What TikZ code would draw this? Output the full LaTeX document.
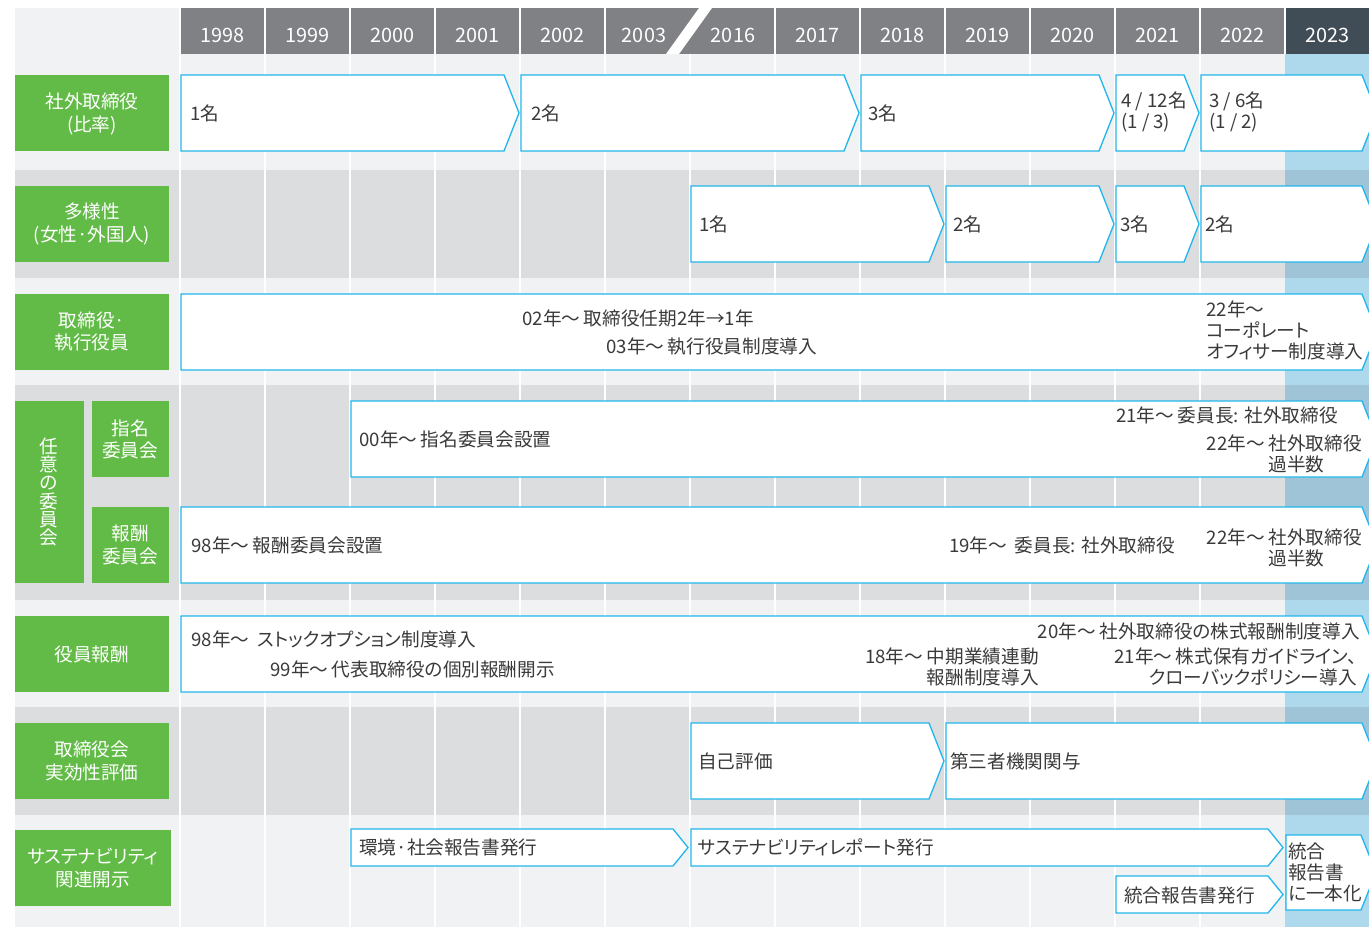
\documentclass[tikz,border=0pt]{standalone}
\usepackage{fontspec}
\setmainfont{Noto Sans CJK JP}[RawFeature=+palt]
\definecolor{bglight}{HTML}{F1F2F4}
\definecolor{bgdark}{HTML}{DCDDDF}
\definecolor{nowlight}{HTML}{AED8EC}
\definecolor{nowdark}{HTML}{9FC4D8}
\definecolor{hdrgray}{HTML}{808185}
\definecolor{hdrnow}{HTML}{404C56}
\definecolor{labgreen}{HTML}{62BB47}
\definecolor{boxline}{HTML}{22B6EA}
\definecolor{boxtext}{HTML}{3A3A3A}
\newcommand{\yrfont}{\fontsize{11.3}{13}\selectfont}
\newcommand{\bxfont}{\fontsize{10.6}{12}\selectfont}
\newcommand{\lbfont}{\fontsize{10.6}{12.6}\selectfont}
\newcommand{\wv}{〜\hspace{0.2em}}
\newcommand{\chev}[4]{\draw[chev] (#1,#3) -- (#2-15,#3) -- (#2,{(#3+#4)/2}) -- (#2-15,#4) -- (#1,#4) -- cycle;}
\begin{document}
\begin{tikzpicture}[x=0.02cm,y=-0.02cm,
  chev/.style={draw=boxline,fill=white,line width=0.75pt},
  grid/.style={white,line width=0.8pt},
  yr/.style={text=white,font=\yrfont,inner sep=0pt},
  lab/.style={text=white,font=\lbfont,align=center,inner sep=0pt},
  txt/.style={text=boxtext,font=\bxfont,inner sep=0pt}]
\useasboundingbox (0,0) rectangle (1369,927);
\clip (0,0) rectangle (1369,927);
\fill[bglight] (15,8) rectangle (1369,927);
\fill[bgdark] (15,170) rectangle (1369,278);
\fill[bgdark] (15,385) rectangle (1369,600);
\fill[bgdark] (15,707) rectangle (1369,815);
\fill[nowlight] (1285,54) rectangle (1369,927);
\fill[nowdark] (1285,170) rectangle (1369,278);
\fill[nowdark] (1285,385) rectangle (1369,600);
\fill[nowdark] (1285,707) rectangle (1369,815);
\fill[hdrgray] (180,8) rectangle (1285,54);
\fill[hdrnow] (1285,8) rectangle (1369,54);
\draw[grid] (180,8) -- (180,927) (265,8) -- (265,927) (350,8) -- (350,927)
  (435,8) -- (435,927) (520,8) -- (520,927) (605,8) -- (605,927)
  (690,54) -- (690,927) (775,8) -- (775,927) (860,8) -- (860,927)
  (945,8) -- (945,927) (1030,8) -- (1030,927) (1115,8) -- (1115,927)
  (1200,8) -- (1200,927) (1285,8) -- (1285,54);
\fill[white] (666,54) -- (679,54) -- (712,8) -- (699,8) -- cycle;
\node[yr] (y1998) at (222.5,35) {1998};
\node[yr] (y1999) at (307.5,35) {1999};
\node[yr] (y2000) at (392.5,35) {2000};
\node[yr] (y2001) at (477.5,35) {2001};
\node[yr] (y2002) at (562.5,35) {2002};
\node[yr] (y2003) at (644,35) {2003};
\node[yr] (y2016) at (733,35) {2016};
\node[yr] (y2017) at (817.5,35) {2017};
\node[yr] (y2018) at (902.5,35) {2018};
\node[yr] (y2019) at (987.5,35) {2019};
\node[yr] (y2020) at (1072.5,35) {2020};
\node[yr] (y2021) at (1157.5,35) {2021};
\node[yr] (y2022) at (1242.5,35) {2022};
\node[yr] (y2023) at (1327.5,35) {2023};
\fill[labgreen] (15,75) rectangle (169,151);
\fill[labgreen] (15,186) rectangle (169,262);
\fill[labgreen] (15,294) rectangle (169,370);
\fill[labgreen] (15,401) rectangle (84,583);
\fill[labgreen] (92,401) rectangle (169,477);
\fill[labgreen] (92,507) rectangle (169,583);
\fill[labgreen] (15,616) rectangle (169,692);
\fill[labgreen] (15,723) rectangle (169,799);
\fill[labgreen] (15,830) rectangle (171,906);
\node[lab] (outside) at (92,114) {社外取締役\\(比率)};
\node[lab] (diversity) at (92,224) {多様性\\(女性·外国人)};
\node[lab] (officers) at (92,332) {取締役·\\執行役員};
\node[lab,font=\fontsize{10.6}{10.4}\selectfont] (committees) at (49,492) {任\\意\\の\\委\\員\\会};
\node[lab] (nomination) at (130,439) {指名\\委員会};
\node[lab] (remuneration) at (130,545) {報酬\\委員会};
\node[lab] (pay) at (92,654) {役員報酬};
\node[lab] (evaluation) at (92,761) {取締役会\\実効性評価};
\node[lab] (disclosure) at (93,868) {サステナビリティ\\関連開示};
\chev{181}{519}{75}{151}
\chev{521}{859}{75}{151}
\chev{861}{1114}{75}{151}
\chev{1116}{1199}{75}{151}
\chev{1201}{1377}{75}{151}
\node[txt,anchor=west] (out98) at (190,113) {1名};
\node[txt,anchor=west] (out02) at (531,113) {2名};
\node[txt,anchor=west] (out18) at (868,113) {3名};
\node[txt,anchor=west,align=left] (out21) at (1121,112) {4 / 12名\\(1 / 3)};
\node[txt,anchor=west,align=left] (out22) at (1209,112) {3 / 6名\\(1 / 2)};
\chev{691}{944}{186}{262}
\chev{946}{1114}{186}{262}
\chev{1116}{1199}{186}{262}
\chev{1201}{1377}{186}{262}
\node[txt,anchor=west] (div16) at (699,224) {1名};
\node[txt,anchor=west] (div19) at (953,224) {2名};
\node[txt,anchor=west] (div21) at (1120,224) {3名};
\node[txt,anchor=west] (div22) at (1205,224) {2名};
\chev{181}{1377}{294}{370}
\node[txt,anchor=west] (term02) at (522,318) {02年\wv 取締役任期2年→1年};
\node[txt,anchor=west] (exec03) at (606,347) {03年\wv 執行役員制度導入};
\node[txt,anchor=west,align=left] (corp22) at (1206,330) {22年〜\\コーポレート\\オフィサー制度導入};
\chev{351}{1377}{401}{477}
\node[txt,anchor=west] (nom00) at (359,439) {00年\wv 指名委員会設置};
\node[txt,anchor=east] (nom21) at (1338,415) {21年\wv 委員長: 社外取締役};
\node[txt,anchor=east,align=right] (nom22) at (1362,454) {22年\wv 社外取締役\\過半数\hspace*{2em}};
\chev{181}{1377}{507}{583}
\node[txt,anchor=west] (rem98) at (191,545) {98年\wv 報酬委員会設置};
\node[txt,anchor=east] (rem19) at (1175,545) {19年\wv\ 委員長: 社外取締役};
\node[txt,anchor=east,align=right] (rem22) at (1362,548) {22年\wv 社外取締役\\過半数\hspace*{2em}};
\chev{181}{1377}{616}{692}
\node[txt,anchor=west] (pay98) at (191,639) {98年\wv\ ストックオプション制度導入};
\node[txt,anchor=west] (pay99) at (270,669) {99年\wv 代表取締役の個別報酬開示};
\node[txt,anchor=east] (pay20) at (1360,631) {20年\wv 社外取締役の株式報酬制度導入};
\node[txt,anchor=east,align=right] (pay18) at (1039,667) {18年\wv 中期業績連動\\報酬制度導入};
\node[txt,anchor=east,align=right] (pay21) at (1357,667) {21年\wv 株式保有ガイドライン、\\クローバックポリシー導入};
\chev{691}{944}{723}{799}
\chev{946}{1377}{723}{799}
\node[txt,anchor=west] (self) at (698,761) {自己評価};
\node[txt,anchor=west] (third) at (950,761) {第三者機関関与};
\chev{351}{688}{829}{866}
\chev{691}{1283}{829}{866}
\chev{1116}{1283}{876}{913}
\chev{1286}{1376}{835}{910}
\node[txt,anchor=west] (envrep) at (359,847) {環境·社会報告書発行};
\node[txt,anchor=west] (susrep) at (698,847) {サステナビリティレポート発行};
\node[txt,anchor=west] (intrep) at (1124,895) {統合報告書発行};
\node[txt,anchor=west,align=left] (onerep) at (1288,872) {統合\\報告書\\に一本化};
\end{tikzpicture}
\end{document}
